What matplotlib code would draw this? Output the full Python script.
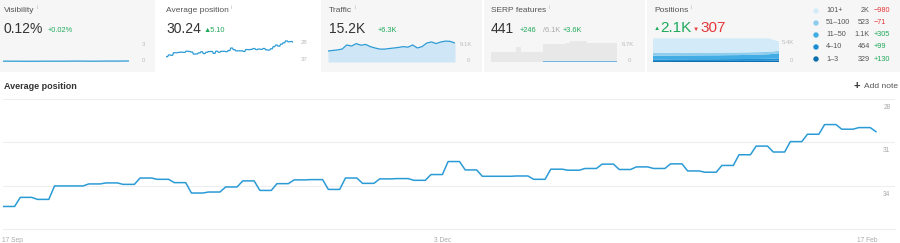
import matplotlib
matplotlib.use("Agg")
import matplotlib.pyplot as plt
from matplotlib.patches import Rectangle, Circle
import numpy as np
import pandas as pd

plt.rcParams['font.family'] = ['Liberation Sans', 'DejaVu Sans']

# average position, one value per update (held for 3 days)
avg_pos = [35.44, 34.81, 34.95, 34.02, 34.02, 33.88, 33.81, 33.91, 33.47, 33.56,
           33.79, 34.51, 34.44, 34.09, 33.67, 34.33, 33.86, 33.60, 33.58, 34.26,
           33.47, 33.84, 33.53, 33.51, 33.63, 33.23, 32.33, 32.91, 33.35, 33.35,
           33.33, 33.56, 32.86, 32.93, 32.81, 32.51, 32.88, 32.70, 32.81, 32.49,
           32.98, 33.07, 32.60, 31.86, 31.26, 31.67, 30.95, 30.44, 29.77, 30.09,
           29.98, 30.26]
date_ticks = ['2018-09-17', '2018-12-03', '2019-02-17']
date_labels = ['17 Sep', '3 Dec', '17 Feb']
pos_ticks = [28, 31, 34, 37]

visibility = [0.10, 0.10, 0.09, 0.09, 0.10, 0.10, 0.10, 0.11, 0.10, 0.10, 0.11, 0.11, 0.12]
traffic_k = [4.0, 4.2, 4.4, 4.7, 6.2, 5.8, 6.7, 6.1, 6.4, 5.6, 5.1, 4.7, 4.7, 4.9,
             5.1, 5.3, 5.6, 5.4, 6.2, 5.1, 5.6, 6.9, 7.3, 6.7, 7.3, 7.6, 7.5, 6.9]
serp_all_k = [2.8, 2.8, 2.8, 2.8, 2.8, 4.1, 2.8, 2.8, 2.8, 2.8, 4.7, 4.7, 4.7, 4.8,
              5.0, 5.6, 5.6, 5.5, 5.0, 5.0, 5.0, 5.0, 5.0, 5.0]
serp_own_k = [0.10, 0.10, 0.10, 0.10, 0.10, 0.10, 0.10, 0.10, 0.10, 0.10, 0.15, 0.15,
              0.15, 0.15, 0.16, 0.17, 0.17, 0.17, 0.18, 0.18, 0.18, 0.19, 0.19, 0.19]
pos_names = ['101+', '51–100', '11–50', '4–10', '1–3']
pos_now = ['2K', '523', '1.1K', '464', '329']
pos_change = ['−980', '−71', '+305', '+99', '+130']
pos_1_3 = [0.20, 0.20, 0.21, 0.21, 0.22, 0.22, 0.22, 0.23, 0.23, 0.24, 0.24, 0.25, 0.33]
pos_4_10 = [0.36, 0.36, 0.37, 0.37, 0.38, 0.38, 0.38, 0.39, 0.40, 0.41, 0.42, 0.44, 0.46]
pos_11_50 = [0.80, 0.80, 0.81, 0.82, 0.82, 0.84, 0.84, 0.85, 0.86, 0.88, 0.92, 0.98, 1.10]
pos_51_100 = [0.59, 0.59, 0.59, 0.58, 0.58, 0.57, 0.57, 0.56, 0.56, 0.55, 0.54, 0.53, 0.52]
pos_101 = [3.15, 3.15, 3.14, 3.14, 3.12, 3.11, 3.11, 3.09, 3.07, 3.04, 3.00, 2.92, 2.00]
pos_colors = ['#d3ebf9', '#8dcdee', '#41ade4', '#1d8ed3', '#0d6fae']

W, H = 900, 243
fig = plt.figure(figsize=(9, 2.43), dpi=100)


def box(x0, y0, x1, y1):
    return [x0 / W, 1 - y1 / H, (x1 - x0) / W, (y1 - y0) / H]


green = '#1fa95b'
red = '#e5383b'
blue = '#2b9bd6'
grey = '#a8a8a8'

# card backgrounds (drawn under everything)
for x0, x1, c in [(0, 155, '#f6f6f6'), (157, 319, '#ffffff'), (321, 482, '#f6f6f6'),
                  (484, 645, '#f6f6f6'), (647, 900, '#f6f6f6')]:
    fig.patches.append(Rectangle((x0 / W, 1 - 72 / H), (x1 - x0) / W, 72 / H,
                                 transform=fig.transFigure, facecolor=c,
                                 edgecolor='none', zorder=-5))

# visibility sparkline
a1 = fig.add_axes(box(3, 37, 129, 62))
a1.plot(visibility, color=blue, lw=0.9)
a1.set_ylim(0, 3)
a1.set_xlim(0, len(visibility) - 1)
a1.axis('off')

# avg position sparkline
days = np.append(np.repeat(avg_pos[:-1], 3), avg_pos[-1])
dates = pd.date_range('2018-09-15 08:00', '2019-02-18 14:00', periods=len(days))
a2 = fig.add_axes(box(166, 36, 293, 61))
a2.plot(dates, days, color=blue, lw=0.9)
a2.set_ylim(37, 28)
a2.set_xlim(dates[0], dates[-1])
a2.axis('off')

# traffic sparkline
a3 = fig.add_axes(box(328, 37, 455, 62))
tx = np.arange(len(traffic_k))
a3.fill_between(tx, traffic_k, color='#cfe6f6', lw=0)
a3.plot(tx, traffic_k, color=blue, lw=0.9)
a3.set_ylim(0, 9.1)
a3.set_xlim(0, len(traffic_k) - 1)
a3.axis('off')

# serp sparkline
a4 = fig.add_axes(box(491, 37, 617, 62))
sx = np.arange(len(serp_all_k))
a4.fill_between(sx, serp_all_k, step='mid', color='#e8e8e8', lw=0)
a4.fill_between(sx, serp_own_k, step='mid', color='#6fb6e4', lw=0)
a4.set_ylim(0, 6.7)
a4.set_xlim(0, len(serp_all_k) - 1)
a4.axis('off')

# positions sparkline
a5 = fig.add_axes(box(653, 37, 779, 62))
px_ = np.arange(len(pos_1_3))
a5.stackplot(px_, pos_1_3, pos_4_10, pos_11_50, pos_51_100, pos_101,
             colors=pos_colors[::-1], lw=0)
a5.set_ylim(0, 5.4)
a5.set_xlim(0, len(pos_1_3) - 1)
a5.axis('off')

# main chart
ax = fig.add_axes(box(3, 99, 895, 229))
ax.plot(dates, days, color=blue, lw=1.1)
ax.set_ylim(37, 28)
t0 = pd.Timestamp('2018-09-17')
ax.set_xlim(t0 - pd.Timedelta(days=1.70), t0 + pd.Timedelta(days=158.0))
ax.set_yticks(pos_ticks)
ax.grid(axis='y', color='#eeeeee', lw=0.8)
ax.axhline(pos_ticks[-1], color='#eeeeee', lw=0.8, clip_on=False, zorder=0)
ax.set_axisbelow(True)
for s in ax.spines.values():
    s.set_visible(False)
ax.tick_params(left=False, bottom=False, labelleft=False)
ax.set_xticks(pd.to_datetime(date_ticks))
ax.set_xticklabels(date_labels, fontsize=4.8, color='#aaaaaa')
ax.tick_params(axis='x', pad=2)
for v in pos_ticks[:-1]:
    ax.annotate(str(v), xy=(0.995, v), xycoords=('axes fraction', 'data'),
                xytext=(0, -6), textcoords='offset points', ha='right', va='center',
                fontsize=4.8, color='#aaaaaa')

# overlay in pixel coordinates for the card texts and legend dots
ov = fig.add_axes([0, 0, 1, 1], zorder=10)
ov.set_xlim(0, W)
ov.set_ylim(H, 0)
ov.patch.set_alpha(0)
ov.axis('off')


def t(x, y, s, **kw):
    kw.setdefault('va', 'center')
    return ov.text(x, y, s, **kw)


for x, name in [(4, 'Visibility'), (166, 'Average position'), (329, 'Traffic'),
                (491, 'SERP features'), (654, 'Positions')]:
    tt = t(x, 11, name, fontsize=6, color='#555555')
    ov.annotate('i', xy=(1, 1), xycoords=tt, xytext=(1.5, 1.5), textcoords='offset points',
                fontsize=3.5, color='#aaaaaa', va='top')

t(4, 29, '0.12%', fontsize=10, color='#333333')
t(48, 30, '+0.02%', fontsize=5.3, color=green)
t(166, 29, '30.24', fontsize=10, color='#333333')
t(204, 30, '▲5.10', fontsize=5.3, color=green)
t(329, 29, '15.2K', fontsize=10, color='#333333')
t(378, 30, '+6.3K', fontsize=5.3, color=green)
t(491, 29, '441', fontsize=10, color='#333333')
t(520, 30, '+246', fontsize=5.3, color=green)
t(543, 30, '/6.1K', fontsize=5.3, color=grey)
t(563, 30, '+3.6K', fontsize=5.3, color=green)
t(654, 29, '▲', fontsize=4.5, color=green)
t(660, 28, '2.1K', fontsize=11, color=green)
t(693, 29, '▼', fontsize=4.5, color=red)
t(700, 28, '307', fontsize=11, color=red)

# sparkline axis labels
for x, y, s in [(142, 44, '3'), (142, 60, '0'), (301, 42, '28'), (301, 59, '37'),
                (460, 44, '9.1K'), (467, 60, '0'), (622, 44, '6.7K'), (628, 60, '0'),
                (782, 42, '5.4K'), (790, 60, '0')]:
    t(x, y, s, fontsize=4.3, color='#bbbbbb')

# positions legend
for i, (n, v, c) in enumerate(zip(pos_names, pos_now, pos_change)):
    y = 11 + i * 12.0
    ov.add_patch(Circle((816, y), 2.7, facecolor=pos_colors[i], edgecolor='none'))
    t(826, y, n, fontsize=5.2, color='#555555')
    t(870, y, v, fontsize=5.2, color='#555555', ha='right')
    t(874, y, c, fontsize=5.2, color=red if c.startswith('−') else green)

t(4, 86, 'Average position', fontsize=6.5, color='#333333', fontweight='bold')
t(853, 86, '+', fontsize=8, color='#333333', fontweight='bold')
t(864, 86, 'Add note', fontsize=6, color='#555555')

fig.savefig('out.png', dpi=100)
